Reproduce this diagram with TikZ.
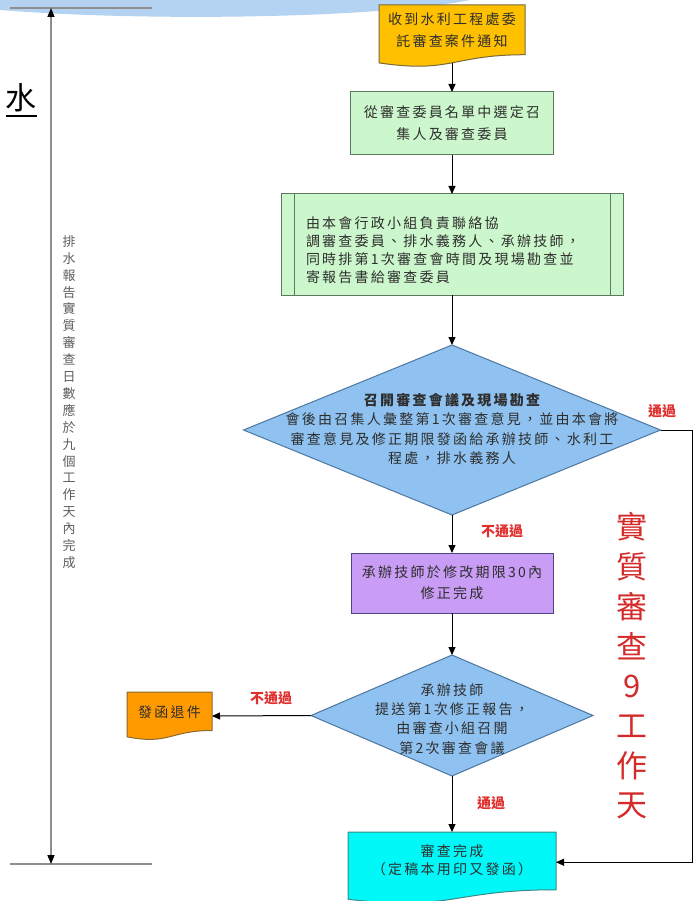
\documentclass[tikz,border=0pt]{standalone}
\usepackage{fontspec}
\usetikzlibrary{arrows.meta,shapes.geometric,calc}
\newfontfamily\cjk[LetterSpace=16]{Noto Sans CJK TC}
\newfontfamily\cjkplain{Noto Sans CJK TC}
\definecolor{ink}{HTML}{2E2E2E}
\definecolor{yelf}{HTML}{FFC000}
\definecolor{yelb}{HTML}{7A6A3A}
\definecolor{grnf}{HTML}{CCF7CC}
\definecolor{grnb}{HTML}{5E7A5E}
\definecolor{bluf}{HTML}{8FC2F0}
\definecolor{blub}{HTML}{4C77A0}
\definecolor{purf}{HTML}{C99CF5}
\definecolor{purb}{HTML}{4E4488}
\definecolor{oraf}{HTML}{FF9A00}
\definecolor{orab}{HTML}{8A6A30}
\definecolor{cyaf}{HTML}{00F8F8}
\definecolor{cyab}{HTML}{3A8A8A}
\definecolor{labred}{HTML}{E0302E}
\definecolor{bigred}{HTML}{D42A2A}
\definecolor{dimgray}{HTML}{8E8E8E}
\definecolor{vtgray}{HTML}{5E5E5E}
\definecolor{bandblue}{HTML}{B4D3F2}
\newcommand\docshape[3]{%
  \path[fill=#2,draw=#3,line width=1pt] let \p1=(#1.north west),\p2=(#1.south east) in
   (\x1,\y1) -- (\x2,\y1) -- (\x2,{\y1+0.802*(\y2-\y1)})
   .. controls ({0.5*\x1+0.5*\x2},{\y1+0.802*(\y2-\y1)}) and ({0.5*\x1+0.5*\x2},{\y1+1.107*(\y2-\y1)}) ..
   (\x1,{\y1+0.934*(\y2-\y1)}) -- cycle;}
\begin{document}
\begin{tikzpicture}[x=1pt,y=-1pt,
  every node/.style={inner sep=0pt, outer sep=0pt},
  txt/.style={font=\cjk\fontsize{14}{20}\selectfont, text=ink, align=center},
  arr/.style={draw=black, line width=1pt, -{Triangle[length=8pt,width=7pt]}},
  lab/.style={font=\cjkplain\bfseries\fontsize{14}{16}\selectfont, text=labred},
  dimline/.style={draw=dimgray, line width=1.5pt},
  rectbox/.style={draw=#1, line width=1pt}
]
\useasboundingbox (0,0) rectangle (700,901);
% title band (cut off at top)
\fill[bandblue] (0,0) -- (0,10) .. controls (150,22) and (380,18) .. (470,0) -- cycle;

% left dimension
\coordinate (t1) at (10,8); \coordinate (t2) at (152,8);
\coordinate (b1) at (10,864); \coordinate (b2) at (152,864);
\coordinate (dt) at (51,8); \coordinate (db) at (51,864);
\draw[dimline] (t1) -- (t2);
\draw[dimline] (b1) -- (b2);
\draw[dimline, {Triangle[length=9pt,width=7pt,color=black]}-{Triangle[length=9pt,width=7pt,color=black]}] (dt) -- (db);
\node[font=\cjkplain\fontsize{13}{16.9}\selectfont, text=vtgray, align=center] (vt) at (69,402)
 {排\\水\\報\\告\\實\\質\\審\\查\\日\\數\\應\\於\\九\\個\\工\\作\\天\\內\\完\\成};
\node[font=\cjkplain\fontsize{31}{32}\selectfont, text=black] (shui) at (21,98) {水};
\draw[line width=2pt] ([yshift=-4pt]shui.south west) -- ([yshift=-4pt]shui.south east);

% n1 yellow document
\node[minimum width=146pt, minimum height=62pt] (n1) at (452,36) {};
\docshape{n1}{yelf}{yelb}
\node[txt, font=\cjk\fontsize{14}{22}\selectfont] (n1t) at ($(n1.north)!0.4!(n1.south)$) {收到水利工程處委\\託審查案件通知};

% n2 green
\node[rectbox=grnb, fill=grnf, minimum width=203pt, minimum height=63pt] (n2) at (452,123.5) {};
\node[txt, font=\cjk\fontsize{14}{22}\selectfont] (n2t) at (n2.center) {從審查委員名單中選定召\\集人及審查委員};

% n3 predefined process
\node[rectbox=grnb, fill=grnf, minimum width=342pt, minimum height=101pt] (n3) at (452,244.5) {};
\draw[grnb, line width=1pt] ($(n3.north west)+(13,0)$) -- ($(n3.south west)+(13,0)$);
\draw[grnb, line width=1pt] ($(n3.north east)+(-13,0)$) -- ($(n3.south east)+(-13,0)$);
\node[txt, align=left, anchor=west, font=\cjk\fontsize{14}{18}\selectfont] (n3t) at ($(n3.west)+(25,5.5)$)
 {由本會行政小組負責聯絡協\\調審查委員、排水義務人、承辦技師，\\同時排第1次審查會時間及現場勘查並\\寄報告書給審查委員};

% d1 diamond
\node[diamond, draw=blub, fill=bluf, line width=1pt, minimum width=417pt, minimum height=170pt] (d1) at (452,430) {};
\node[txt, font=\cjk\fontsize{14}{19.3}\selectfont] (d1t) at (452,429)
 {{\bfseries 召開審查會議及現場勘查}\\會後由召集人彙整第1次審查意見，並由本會將\\審查意見及修正期限發函給承辦技師、水利工\\程處，排水義務人};

% n4 purple
\node[rectbox=purb, fill=purf, minimum width=202pt, minimum height=60pt] (n4) at (452,583) {};
\node[txt, font=\cjk\fontsize{14}{21}\selectfont] (n4t) at (n4.center) {承辦技師於修改期限30內\\修正完成};

% d2 diamond
\node[diamond, draw=blub, fill=bluf, line width=1pt, minimum width=282pt, minimum height=121pt] (d2) at (452,715.5) {};
\node[txt, font=\cjk\fontsize{14}{19.3}\selectfont] (d2t) at (452,719)
 {承辦技師\\提送第1次修正報告，\\由審查小組召開\\第2次審查會議};

% n5 orange document
\node[minimum width=85pt, minimum height=48pt] (n5) at (169.5,716) {};
\docshape{n5}{oraf}{orab}
\node[txt] (n5t) at ($(n5.north)!0.42!(n5.south)$) {發函退件};

% n6 cyan document
\node[minimum width=208pt, minimum height=72pt] (n6) at (452,868) {};
\docshape{n6}{cyaf}{cyab}
\node[txt, font=\cjk\fontsize{14}{18}\selectfont] (n6t) at ($(n6.north)!0.39!(n6.south)$) {審查完成\\（定稿本用印又發函）};

% connectors
\draw[arr] ($(n1.north)!0.93!(n1.south)$) -- (n2.north);
\draw[arr] (n2.south) -- (n3.north);
\draw[arr] (n3.south) -- (d1.north);
\draw[arr] (d1.south) -- (n4.north);
\draw[arr] (n4.south) -- (d2.north);
\draw[arr] (d2.west) -- (n5.east);
\draw[arr] (d2.south) -- (n6.north);
\draw[arr] (d1.east) -- ++(32,0) |- ($(n6.north east)!0.42!(n6.south east)$);

% labels
\node[lab] (l1) at (662,411) {通過};
\node[lab] (l2) at (502,531) {不通過};
\node[lab] (l3) at (271,698) {不通過};
\node[lab] (l4) at (491,803) {通過};

% red vertical text
\node[font=\cjkplain\fontsize{31}{39.7}\selectfont, text=bigred, align=center] (rt) at (632,666)
 {實\\質\\審\\查\\9\\工\\作\\天};
\end{tikzpicture}
\end{document}
